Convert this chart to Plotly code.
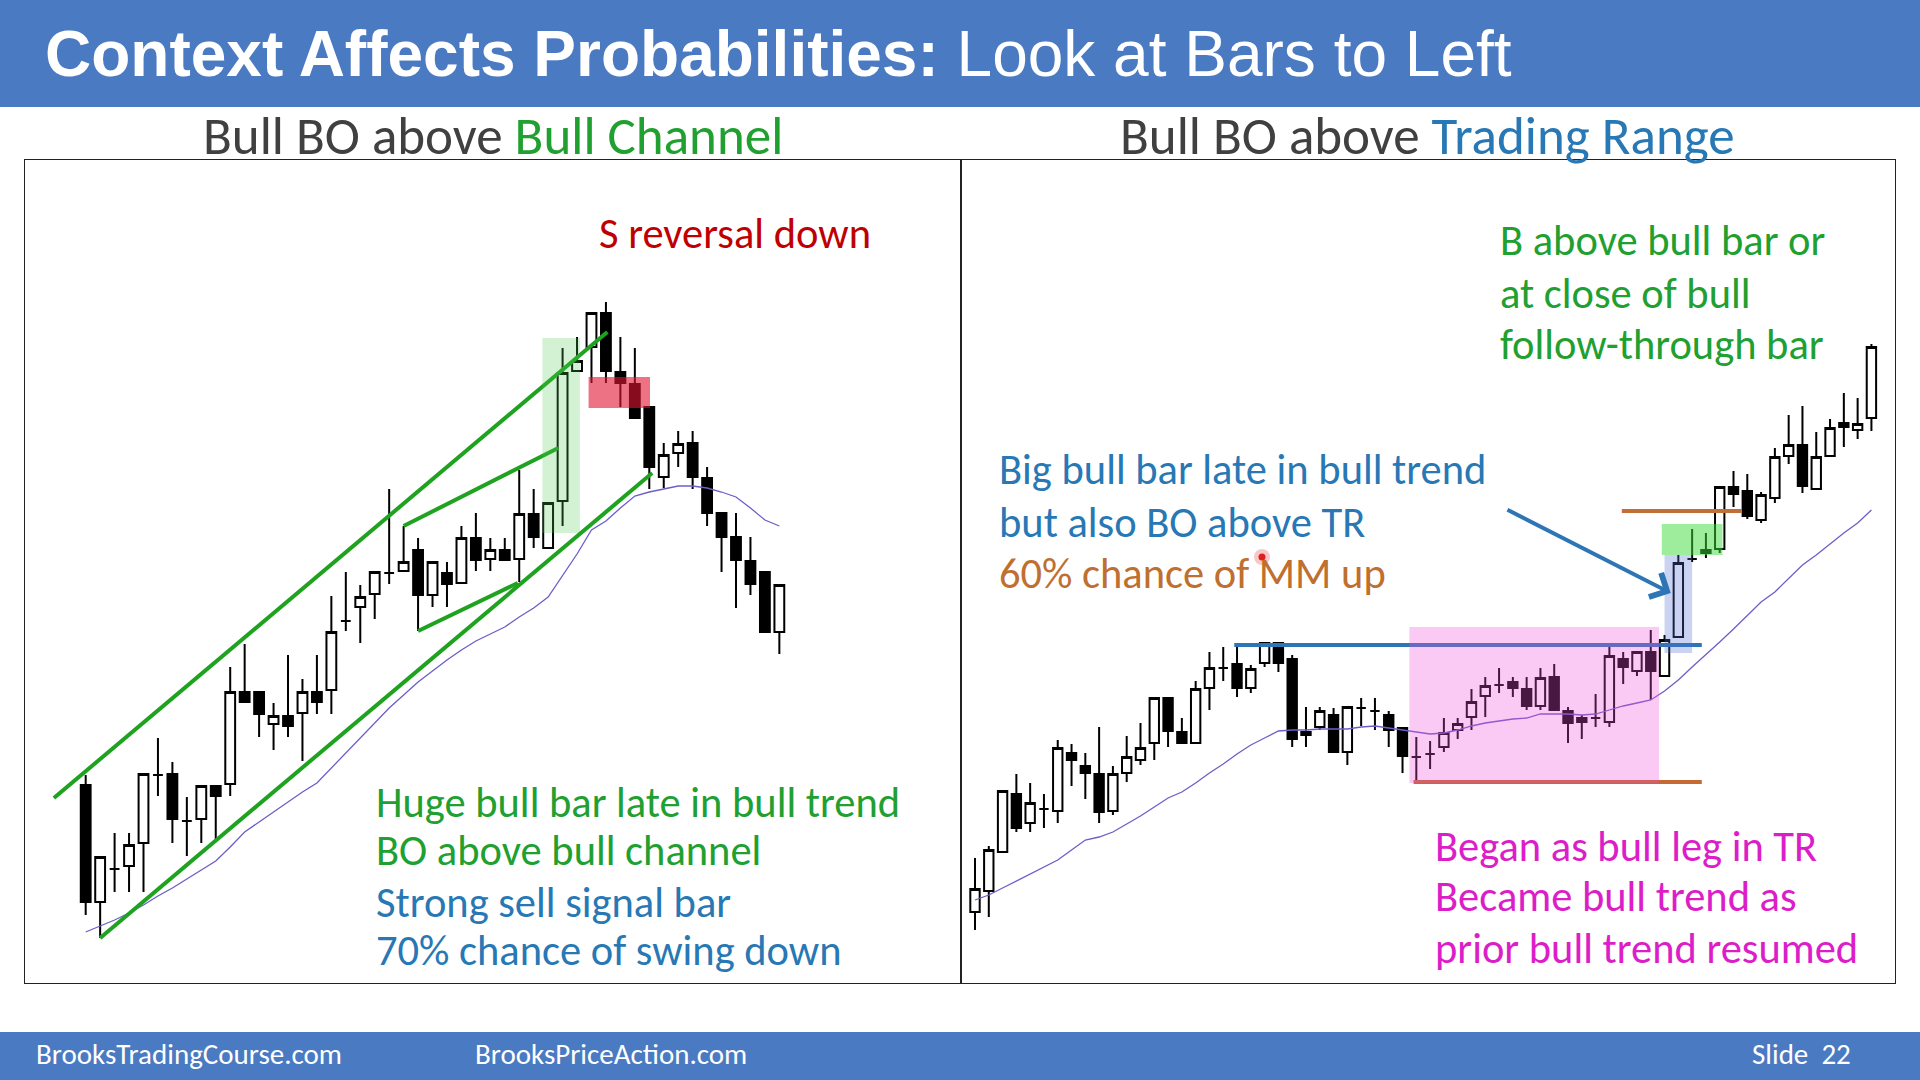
import plotly.graph_objects as go

W, H = 1920, 1080

# ---------------- Left chart: bull breakout above a bull channel ----------------
left_open = [215, 98, 131, 134, 157, 225, 226, 179, 181, 214,
             216, 308, 308, 276, 284, 287, 308, 310, 379, 393,
             406, 427, 429, 450, 405, 427, 417, 462, 441, 450,
             441, 486, 452, 499, 629, 653, 687, 628, 616, 593,
             523, 547, 557, 522, 487, 463, 439, 428, 368]
left_high = [225, 143, 167, 167, 226, 262, 238, 203, 214, 214,
             333, 356, 308, 297, 345, 321, 345, 404, 428, 415,
             428, 511, 474, 462, 438, 438, 474, 487, 462, 462,
             530, 511, 497, 652, 663, 687, 698, 663, 652, 593,
             557, 569, 569, 533, 487, 487, 463, 428, 415]
left_low = [85, 62, 108, 108, 108, 204, 157, 144, 157, 161,
            204, 298, 263, 250, 263, 239, 286, 286, 369, 357,
            381, 416, 429, 369, 393, 393, 417, 429, 429, 440,
            418, 452, 452, 474, 629, 617, 617, 593, 582, 511,
            512, 533, 511, 474, 428, 392, 405, 368, 346]
left_close = [98, 143, 131, 155, 226, 225, 181, 179, 214, 204,
              308, 298, 286, 284, 274, 308, 298, 368, 379, 403,
              428, 427, 438, 405, 438, 416, 462, 440, 450, 440,
              486, 463, 497, 627, 639, 687, 629, 617, 582, 533,
              545, 556, 523, 487, 463, 440, 416, 368, 415]
left_ema = [68, 74, 80, 87, 95, 104, 112, 121, 130, 139,
            153, 168, 178, 188, 198, 208, 217, 232, 247, 263,
            278, 292, 305, 318, 329, 340, 350, 359, 366, 373,
            383, 392, 403, 424, 446, 470, 479, 492, 504, 508,
            511, 514, 514, 512, 508, 503, 492, 480, 474]
# trend lines drawn on the left chart: ((bar, price), (bar, price))
left_trendlines = [((-2.2, 202), (36.1, 668)),   # channel top
                   ((1.0, 62), (39.2, 527)),     # channel bottom
                   ((22.0, 474), (32.7, 552)),   # wedge top
                   ((23.0, 369), (29.9, 417))]   # wedge bottom
left_bo_zone = (31.6, 34.2, 467, 662)      # bar0, bar1, price0, price1
left_sell_zone = (34.8, 39.05, 592, 623)

# ---------------- Right chart: bull breakout above a trading range ----------------
right_open = [88, 109, 148, 206, 177, 191, 189, 247, 234, 226,
              189, 227, 240, 257, 302, 268, 257, 312, 332, 336,
              312, 337, 357, 341, 265, 273, 285, 248, 292, 289,
              285, 272, 243, 246, 253, 270, 283, 304, 315, 318,
              311, 294, 323, 289, 282, 282, 278, 341, 329, 348,
              324, 363, 441, 450, 451, 513, 509, 480, 502, 544,
              555, 511, 544, 577, 570, 582]
right_high = [142, 154, 209, 226, 217, 206, 260, 256, 247, 273,
              234, 264, 277, 302, 302, 282, 319, 348, 353, 357,
              335, 357, 357, 345, 293, 293, 292, 293, 302, 302,
              289, 272, 263, 259, 282, 282, 311, 323, 332, 323,
              323, 332, 336, 293, 285, 306, 353, 348, 348, 370,
              365, 445, 471, 467, 513, 529, 526, 508, 552, 585,
              594, 568, 581, 607, 602, 656]
right_low = [70, 83, 148, 168, 168, 172, 177, 214, 201, 177,
             185, 218, 235, 240, 253, 257, 257, 290, 319, 303,
             307, 333, 328, 253, 253, 270, 248, 235, 274, 270,
             253, 227, 220, 231, 248, 261, 270, 283, 307, 303,
             290, 290, 290, 257, 261, 273, 273, 316, 324, 300,
             324, 363, 438, 442, 447, 493, 481, 477, 497, 536,
             507, 511, 544, 553, 561, 569]
right_close = [111, 150, 209, 172, 197, 191, 252, 240, 227, 188,
               226, 243, 252, 302, 269, 257, 311, 332, 332, 312,
               331, 357, 337, 261, 268, 289, 248, 293, 292, 289,
               270, 244, 243, 246, 267, 276, 298, 314, 315, 312,
               294, 322, 290, 277, 278, 282, 344, 333, 348, 329,
               360, 437, 441, 447, 513, 506, 484, 505, 543, 555,
               514, 543, 572, 573, 576, 653]
right_ema = [100, 105, 112, 119, 126, 133, 140, 150, 160, 163,
             168, 176, 184, 193, 202, 208, 217, 227, 236, 246,
             255, 262, 269, 270, 270, 271, 271, 271, 273, 274,
             272, 270, 268, 266, 267, 270, 274, 277, 279, 281,
             282, 286, 286, 286, 285, 286, 290, 294, 297, 300,
             309, 320, 333, 345, 358, 371, 384, 398, 408, 422,
             435, 445, 456, 467, 477, 490]
tr_top = (18.8, 52.7, 355)        # bar0, bar1, price
tr_bottom = (31.8, 52.7, 218)
mm_line = (46.9, 55.6, 489)
tr_zone = (31.5, 49.6, 217, 373)
bo_bar_zone = (50.0, 52.0, 347, 445)
entry_zone = (49.8, 54.2, 445, 476)
arrow_from = (38.5, 491)
arrow_to = (50.45, 407)

# ---------------- styling ----------------
BAND = "#4A7AC2"
GREEN_T = "#20A030"
BLUE_T = "#2778B4"
RED_T = "#C00000"
BROWN_T = "#BF6F2F"
MAG_T = "#DC1EC8"
GRAY_T = "#404040"
BODY_FONT = "Carlito, Lato, sans-serif"
SUB_SIZE = 53
NOTE_SIZE = 42.5
FOOT_SIZE = 29


def px(x):
    return x / W


def py(y):
    return 1 - y / H


fig = go.Figure()

candle_style = dict(
    increasing=dict(fillcolor="white", line=dict(color="black", width=2)),
    decreasing=dict(fillcolor="black", line=dict(color="black", width=2)),
    whiskerwidth=0, showlegend=False, hoverinfo="skip",
)

fig.add_trace(go.Scatter(x=list(range(len(left_ema))), y=left_ema, mode="lines",
                         line=dict(color="#6B5FC7", width=1.3), xaxis="x", yaxis="y",
                         showlegend=False, hoverinfo="skip"))
fig.add_trace(go.Candlestick(x=list(range(len(left_open))), open=left_open, high=left_high,
                             low=left_low, close=left_close, xaxis="x", yaxis="y", **candle_style))
fig.add_trace(go.Scatter(x=list(range(len(right_ema))), y=right_ema, mode="lines",
                         line=dict(color="#6B5FC7", width=1.3), xaxis="x2", yaxis="y2",
                         showlegend=False, hoverinfo="skip"))
fig.add_trace(go.Candlestick(x=list(range(len(right_open))), open=right_open, high=right_high,
                             low=right_low, close=right_close, xaxis="x2", yaxis="y2", **candle_style))

shapes = []
# header / footer bands
shapes.append(dict(type="rect", xref="paper", yref="paper", x0=0, x1=1, y0=py(107), y1=1,
                   fillcolor=BAND, line_width=0, layer="below"))
shapes.append(dict(type="rect", xref="paper", yref="paper", x0=0, x1=1, y0=0, y1=py(1032),
                   fillcolor=BAND, line_width=0, layer="below"))

# left chart overlays
for (a, b) in left_trendlines:
    shapes.append(dict(type="line", xref="x", yref="y", x0=a[0], y0=a[1], x1=b[0], y1=b[1],
                       line=dict(color="#1FA21F", width=4), layer="above"))
shapes.append(dict(type="rect", xref="x", yref="y", x0=left_bo_zone[0], x1=left_bo_zone[1],
                   y0=left_bo_zone[2], y1=left_bo_zone[3], fillcolor="rgba(80,200,80,0.25)",
                   line_width=0, layer="above"))
shapes.append(dict(type="rect", xref="x", yref="y", x0=left_sell_zone[0], x1=left_sell_zone[1],
                   y0=left_sell_zone[2], y1=left_sell_zone[3], fillcolor="rgba(225,20,50,0.6)",
                   line_width=0, layer="above"))

# right chart overlays
shapes.append(dict(type="line", xref="x2", yref="y2", x0=tr_top[0], x1=tr_top[1], y0=tr_top[2],
                   y1=tr_top[2], line=dict(color="#2E75B6", width=4), layer="above"))
shapes.append(dict(type="line", xref="x2", yref="y2", x0=tr_bottom[0], x1=tr_bottom[1],
                   y0=tr_bottom[2], y1=tr_bottom[2], line=dict(color="#C46A32", width=4), layer="above"))
shapes.append(dict(type="rect", xref="x2", yref="y2", x0=tr_zone[0], x1=tr_zone[1], y0=tr_zone[2],
                   y1=tr_zone[3], fillcolor="rgba(240,80,220,0.3)", line_width=0, layer="above"))
shapes.append(dict(type="rect", xref="x2", yref="y2", x0=bo_bar_zone[0], x1=bo_bar_zone[1],
                   y0=bo_bar_zone[2], y1=bo_bar_zone[3], fillcolor="rgba(80,110,210,0.3)",
                   line_width=0, layer="above"))
shapes.append(dict(type="rect", xref="x2", yref="y2", x0=entry_zone[0], x1=entry_zone[1],
                   y0=entry_zone[2], y1=entry_zone[3], fillcolor="rgba(60,220,60,0.5)",
                   line_width=0, layer="above"))
shapes.append(dict(type="line", xref="x2", yref="y2", x0=mm_line[0], x1=mm_line[1], y0=mm_line[2],
                   y1=mm_line[2], line=dict(color="#C07035", width=4), layer="above"))

# laser pointer dot
shapes.append(dict(type="circle", xref="paper", yref="paper", x0=px(1254), x1=px(1270),
                   y0=py(565), y1=py(549), fillcolor="rgba(240,130,130,0.45)", line_width=0))
shapes.append(dict(type="circle", xref="paper", yref="paper", x0=px(1258.5), x1=px(1265.5),
                   y0=py(560.5), y1=py(553.5), fillcolor="#E02020", line_width=0))

annotations = []


def text(t, x, y, size, color, family=BODY_FONT, xanchor="left"):
    annotations.append(dict(text=t, x=px(x), y=py(y), xref="paper", yref="paper",
                            xanchor=xanchor, yanchor="middle", showarrow=False, borderpad=0,
                            font=dict(family=family, size=size, color=color)))


text("<b>Context Affects Probabilities:</b> Look at Bars to Left", 44, 54, 64, "white",
     family="Liberation Sans, Arial, sans-serif")
text(f"Bull BO above <span style='color:{GREEN_T}'>Bull Channel</span>", 493, 136, SUB_SIZE,
     GRAY_T, xanchor="center")
text(f"Bull BO above <span style='color:{BLUE_T}'>Trading Range</span>", 1427, 136, SUB_SIZE,
     GRAY_T, xanchor="center")

text("S reversal down", 598, 233, NOTE_SIZE, RED_T)
text("Huge bull bar late in bull trend", 375, 802, NOTE_SIZE, GREEN_T)
text("BO above bull channel", 375, 850, NOTE_SIZE, GREEN_T)
text("Strong sell signal bar", 375, 902, NOTE_SIZE, BLUE_T)
text("70% chance of swing down", 375, 950, NOTE_SIZE, BLUE_T)

text("B above bull bar or", 1499, 241, NOTE_SIZE, GREEN_T)
text("at close of bull", 1499, 293, NOTE_SIZE, GREEN_T)
text("follow-through bar", 1499, 344, NOTE_SIZE, GREEN_T)
text("Big bull bar late in bull trend", 998, 470, NOTE_SIZE, BLUE_T)
text("but also BO above TR", 998, 522, NOTE_SIZE, BLUE_T)
text("60% chance of MM up", 998, 573, NOTE_SIZE, BROWN_T)
text("Began as bull leg in TR", 1434, 846, NOTE_SIZE, MAG_T)
text("Became bull trend as", 1434, 896, NOTE_SIZE, MAG_T)
text("prior bull trend resumed", 1434, 948, NOTE_SIZE, MAG_T)

text("BrooksTradingCourse.com", 35, 1054, FOOT_SIZE, "white")
text("BrooksPriceAction.com", 474, 1054, FOOT_SIZE, "white")
text("Slide&nbsp;&nbsp;22", 1751, 1054, FOOT_SIZE, "white")

annotations.append(dict(x=arrow_to[0], y=arrow_to[1], ax=arrow_from[0], ay=arrow_from[1],
                        xref="x2", yref="y2", axref="x2", ayref="y2", text="", showarrow=True,
                        arrowhead=4, arrowsize=1.3, arrowwidth=4, arrowcolor="#2E75B6"))

axis_common = dict(showgrid=False, zeroline=False, showticklabels=False, ticks="",
                   showline=True, mirror=True, linecolor="#222222", linewidth=1,
                   fixedrange=True)

fig.update_layout(
    width=W, height=H,
    margin=dict(l=0, r=0, t=0, b=0),
    paper_bgcolor="white", plot_bgcolor="rgba(0,0,0,0)",
    showlegend=False, hovermode=False,
    boxgap=0.32, boxgroupgap=0,
    xaxis=dict(domain=[25 / W, 961 / W], range=[-4.2, 60.57], anchor="y",
               rangeslider=dict(visible=False), **axis_common),
    yaxis=dict(domain=[1 - 983 / H, 1 - 160 / H], range=[17, 840], anchor="x", **axis_common),
    xaxis2=dict(domain=[961 / W, 1895 / W], range=[-1.015, 66.71], anchor="y2",
                rangeslider=dict(visible=False), **axis_common),
    yaxis2=dict(domain=[1 - 983 / H, 1 - 160 / H], range=[17, 840], anchor="x2", **axis_common),
    shapes=shapes,
    annotations=annotations,
)

fig.write_html("out.html", config={"displayModeBar": False},
               post_script="document.body.style.margin='0';document.body.style.overflow='hidden';")
